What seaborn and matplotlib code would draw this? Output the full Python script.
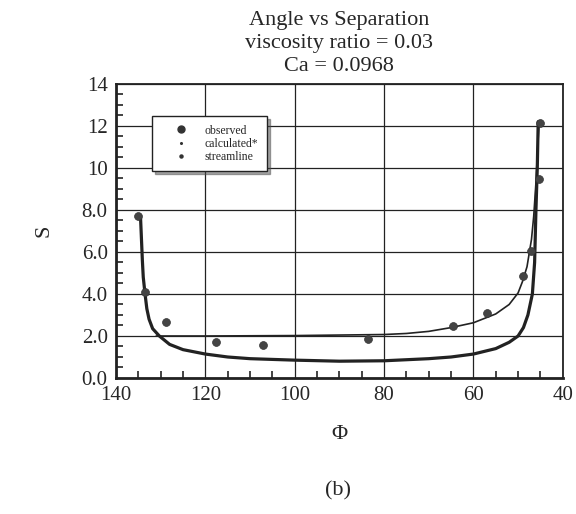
import numpy as np
import pandas as pd
import matplotlib
matplotlib.use("Agg")
import matplotlib.pyplot as plt
import seaborn as sns
from matplotlib.lines import Line2D
from matplotlib.ticker import MultipleLocator

# observed separation points
obs_phi = [135.0, 133.4, 128.8, 117.6, 107.1, 83.6, 64.5, 57.0, 48.9, 47.2, 45.4, 45.2]
obs_s = [7.7, 4.08, 2.67, 1.73, 1.57, 1.88, 2.49, 3.1, 4.86, 6.04, 9.49, 12.15]

# calculated curve (thick U shape)
calc_phi = [134.5, 134.3, 134.1, 133.9, 133.5, 133.1, 132.6, 131.8, 130.3, 128.0, 125.0,
            120.0, 115.0, 110.0, 100.0, 90.0, 80.0, 70.0, 65.0, 60.0, 55.0, 52.0, 50.0,
            48.8, 47.8, 46.8, 46.3, 46.0, 45.7, 45.5]
calc_s = [7.6, 6.6, 5.6, 4.8, 4.0, 3.3, 2.8, 2.35, 2.0, 1.6, 1.35,
          1.14, 1.0, 0.92, 0.85, 0.8, 0.82, 0.92, 1.0, 1.14, 1.4, 1.7, 2.0,
          2.4, 3.0, 4.0, 5.5, 8.0, 10.0, 12.2]

# streamline curve (thin)
stream_phi = [131.0, 120.0, 100.0, 80.0, 75.0, 70.0, 65.0, 60.0, 55.0, 52.0, 50.0,
              49.0, 48.0, 47.0, 46.5, 46.0, 45.6, 45.3]
stream_s = [2.0, 2.0, 2.02, 2.07, 2.12, 2.22, 2.4, 2.63, 3.05, 3.5, 4.05,
            4.6, 5.3, 6.6, 7.7, 9.3, 11.0, 12.2]

x_ticks = [140, 120, 100, 80, 60, 40]
y_ticks = [0, 2, 4, 6, 8, 10, 12, 14]
y_labels = ["0.0", "2.0", "4.0", "6.0", "8.0", "10", "12", "14"]

sns.set_style("ticks")
plt.rcParams["font.family"] = ["Liberation Serif", "DejaVu Serif"]

fig = plt.figure(figsize=(5.76, 5.14), dpi=100)
ax = fig.add_axes([0.2014, 0.2646, 0.7756, 0.572])

calc_df = pd.DataFrame({"phi": calc_phi, "S": calc_s})
stream_df = pd.DataFrame({"phi": stream_phi, "S": stream_s})
obs_df = pd.DataFrame({"phi": obs_phi, "S": obs_s})

sns.lineplot(data=calc_df, x="phi", y="S", sort=False, color="#222222", linewidth=2.3, ax=ax)
sns.lineplot(data=stream_df, x="phi", y="S", sort=False, color="#222222", linewidth=1.2, ax=ax)
sns.scatterplot(data=obs_df, x="phi", y="S", color="#444444", s=32, edgecolor="#333333",
                linewidth=0.5, ax=ax, zorder=5)

ax.set_xlim(140, 40)
ax.set_ylim(0, 14)
ax.set_xticks(x_ticks)
ax.set_xticklabels([str(t) for t in x_ticks])
ax.set_yticks(y_ticks)
ax.set_yticklabels(y_labels)
ax.xaxis.set_minor_locator(MultipleLocator(5))
ax.yaxis.set_minor_locator(MultipleLocator(0.5))
ax.grid(True, which="major", color="#222222", linewidth=0.9)
ax.tick_params(which="both", direction="in", color="#222222", labelsize=15, length=5,
               width=1.2, top=False, right=False)
ax.tick_params(which="major", length=0, pad=6)
for sp in ax.spines.values():
    sp.set_color("#222222")
    sp.set_linewidth(1.3)
ax.spines["left"].set_linewidth(2.0)
ax.spines["bottom"].set_linewidth(2.0)

ax.set_xlabel("Φ", fontsize=16, labelpad=14)
ax.set_ylabel("S", fontsize=16, labelpad=20)
ax.set_title("Angle vs Separation\nviscosity ratio = 0.03\nCa = 0.0968", fontsize=16,
             linespacing=1.3, pad=9)

handles = [
    Line2D([], [], linestyle="none", marker="o", markersize=5, color="#333333"),
    Line2D([], [], linestyle="none", marker="o", markersize=1.2, color="#333333"),
    Line2D([], [], linestyle="none", marker="o", markersize=2.2, color="#333333"),
]
leg = ax.legend(handles, ["observed", "calculated*", "streamline"], loc="upper left",
                bbox_to_anchor=(0.08, 0.89), fontsize=8.5, frameon=True, fancybox=False,
                shadow=True, handlelength=3.6, handletextpad=0.2, borderpad=0.7,
                labelspacing=0.1, borderaxespad=0)
leg.get_frame().set_edgecolor("#222222")
leg.get_frame().set_linewidth(1.0)

fig.text(0.587, 0.045, "(b)", fontsize=16, ha="center", va="center")

fig.savefig("out.png", dpi=100)
